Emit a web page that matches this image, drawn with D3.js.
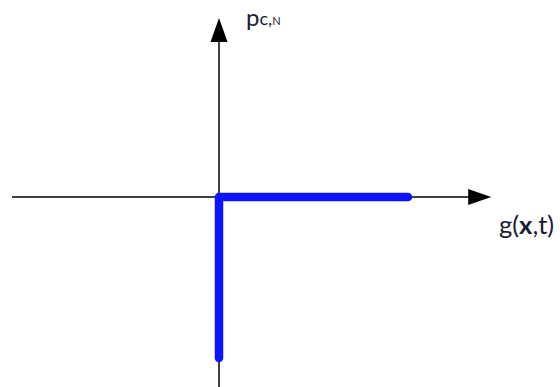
<!DOCTYPE html>
<html>
<head>
<meta charset="utf-8">
<script src="https://cdn.jsdelivr.net/npm/d3@7"></script>
<style>
  html, body { margin: 0; padding: 0; background: #fff; }
  svg { display: block; }
  text { font-family: Lato, "Open Sans", sans-serif; fill: #1c1c30; }
</style>
</head>
<body>
<script>
// Axis extents in chart units (origin at 0,0)
const gAxisRange = [-1.0, 1.315];    // horizontal axis: g(x,t)
const pAxisRange = [-1.0, 0.942];    // vertical axis: p_c,N

// Characteristic curve: vertical segment on g = 0, then flat at p = 0
const curveG = [0, 0, 0.913];
const curveP = [-0.847, 0, 0];

const xLabel = ["g(", "x", ",t)"];
const yLabel = ["p", "c,", "N"];

const width = 560, height = 387;

const svg = d3.select("body").append("svg")
  .attr("width", width).attr("height", height);

const x = d3.scaleLinear().domain([-1, 1]).range([12, 426]);
const y = d3.scaleLinear().domain([-1, 1]).range([387, 7]);

// Axes lines
svg.append("line")
  .attr("x1", x(gAxisRange[0])).attr("x2", x(gAxisRange[1]) - 18)
  .attr("y1", y(0)).attr("y2", y(0))
  .attr("stroke", "#000").attr("stroke-width", 1.5);

svg.append("line")
  .attr("x1", x(0)).attr("x2", x(0))
  .attr("y1", y(pAxisRange[0])).attr("y2", y(pAxisRange[1]) + 18)
  .attr("stroke", "#000").attr("stroke-width", 1.5);

// Arrowheads
const hx = x(gAxisRange[1]), hy = y(0);
svg.append("path")
  .attr("d", `M${hx},${hy} L${hx - 23},${hy - 8} L${hx - 23},${hy + 8} Z`)
  .attr("fill", "#000");

const vx = x(0), vy = y(pAxisRange[1]);
svg.append("path")
  .attr("d", `M${vx},${vy} L${vx - 8.5},${vy + 24} L${vx + 8.5},${vy + 24} Z`)
  .attr("fill", "#000");

// Blue curve
const pts = curveG.map((g, i) => [g, curveP[i]]);
svg.append("path")
  .datum(pts)
  .attr("d", d3.line().x(d => x(d[0])).y(d => y(d[1])))
  .attr("fill", "none")
  .attr("stroke", "#0a14ff")
  .attr("stroke-width", 8.5)
  .attr("stroke-linecap", "round")
  .attr("stroke-linejoin", "round");

// Axis labels
const yl = svg.append("text").attr("x", 246).attr("y", 26);
yl.append("tspan").attr("font-size", 24).text(yLabel[0]);
yl.append("tspan").attr("font-size", 18).attr("dy", -1).text(yLabel[1]);
yl.append("tspan").attr("font-size", 11).text(yLabel[2]);

const xl = svg.append("text").attr("x", 499).attr("y", 234).attr("font-size", 25.5);
xl.append("tspan").text(xLabel[0]);
xl.append("tspan").attr("font-weight", "bold").text(xLabel[1]);
xl.append("tspan").text(xLabel[2]);
</script>
</body>
</html>
